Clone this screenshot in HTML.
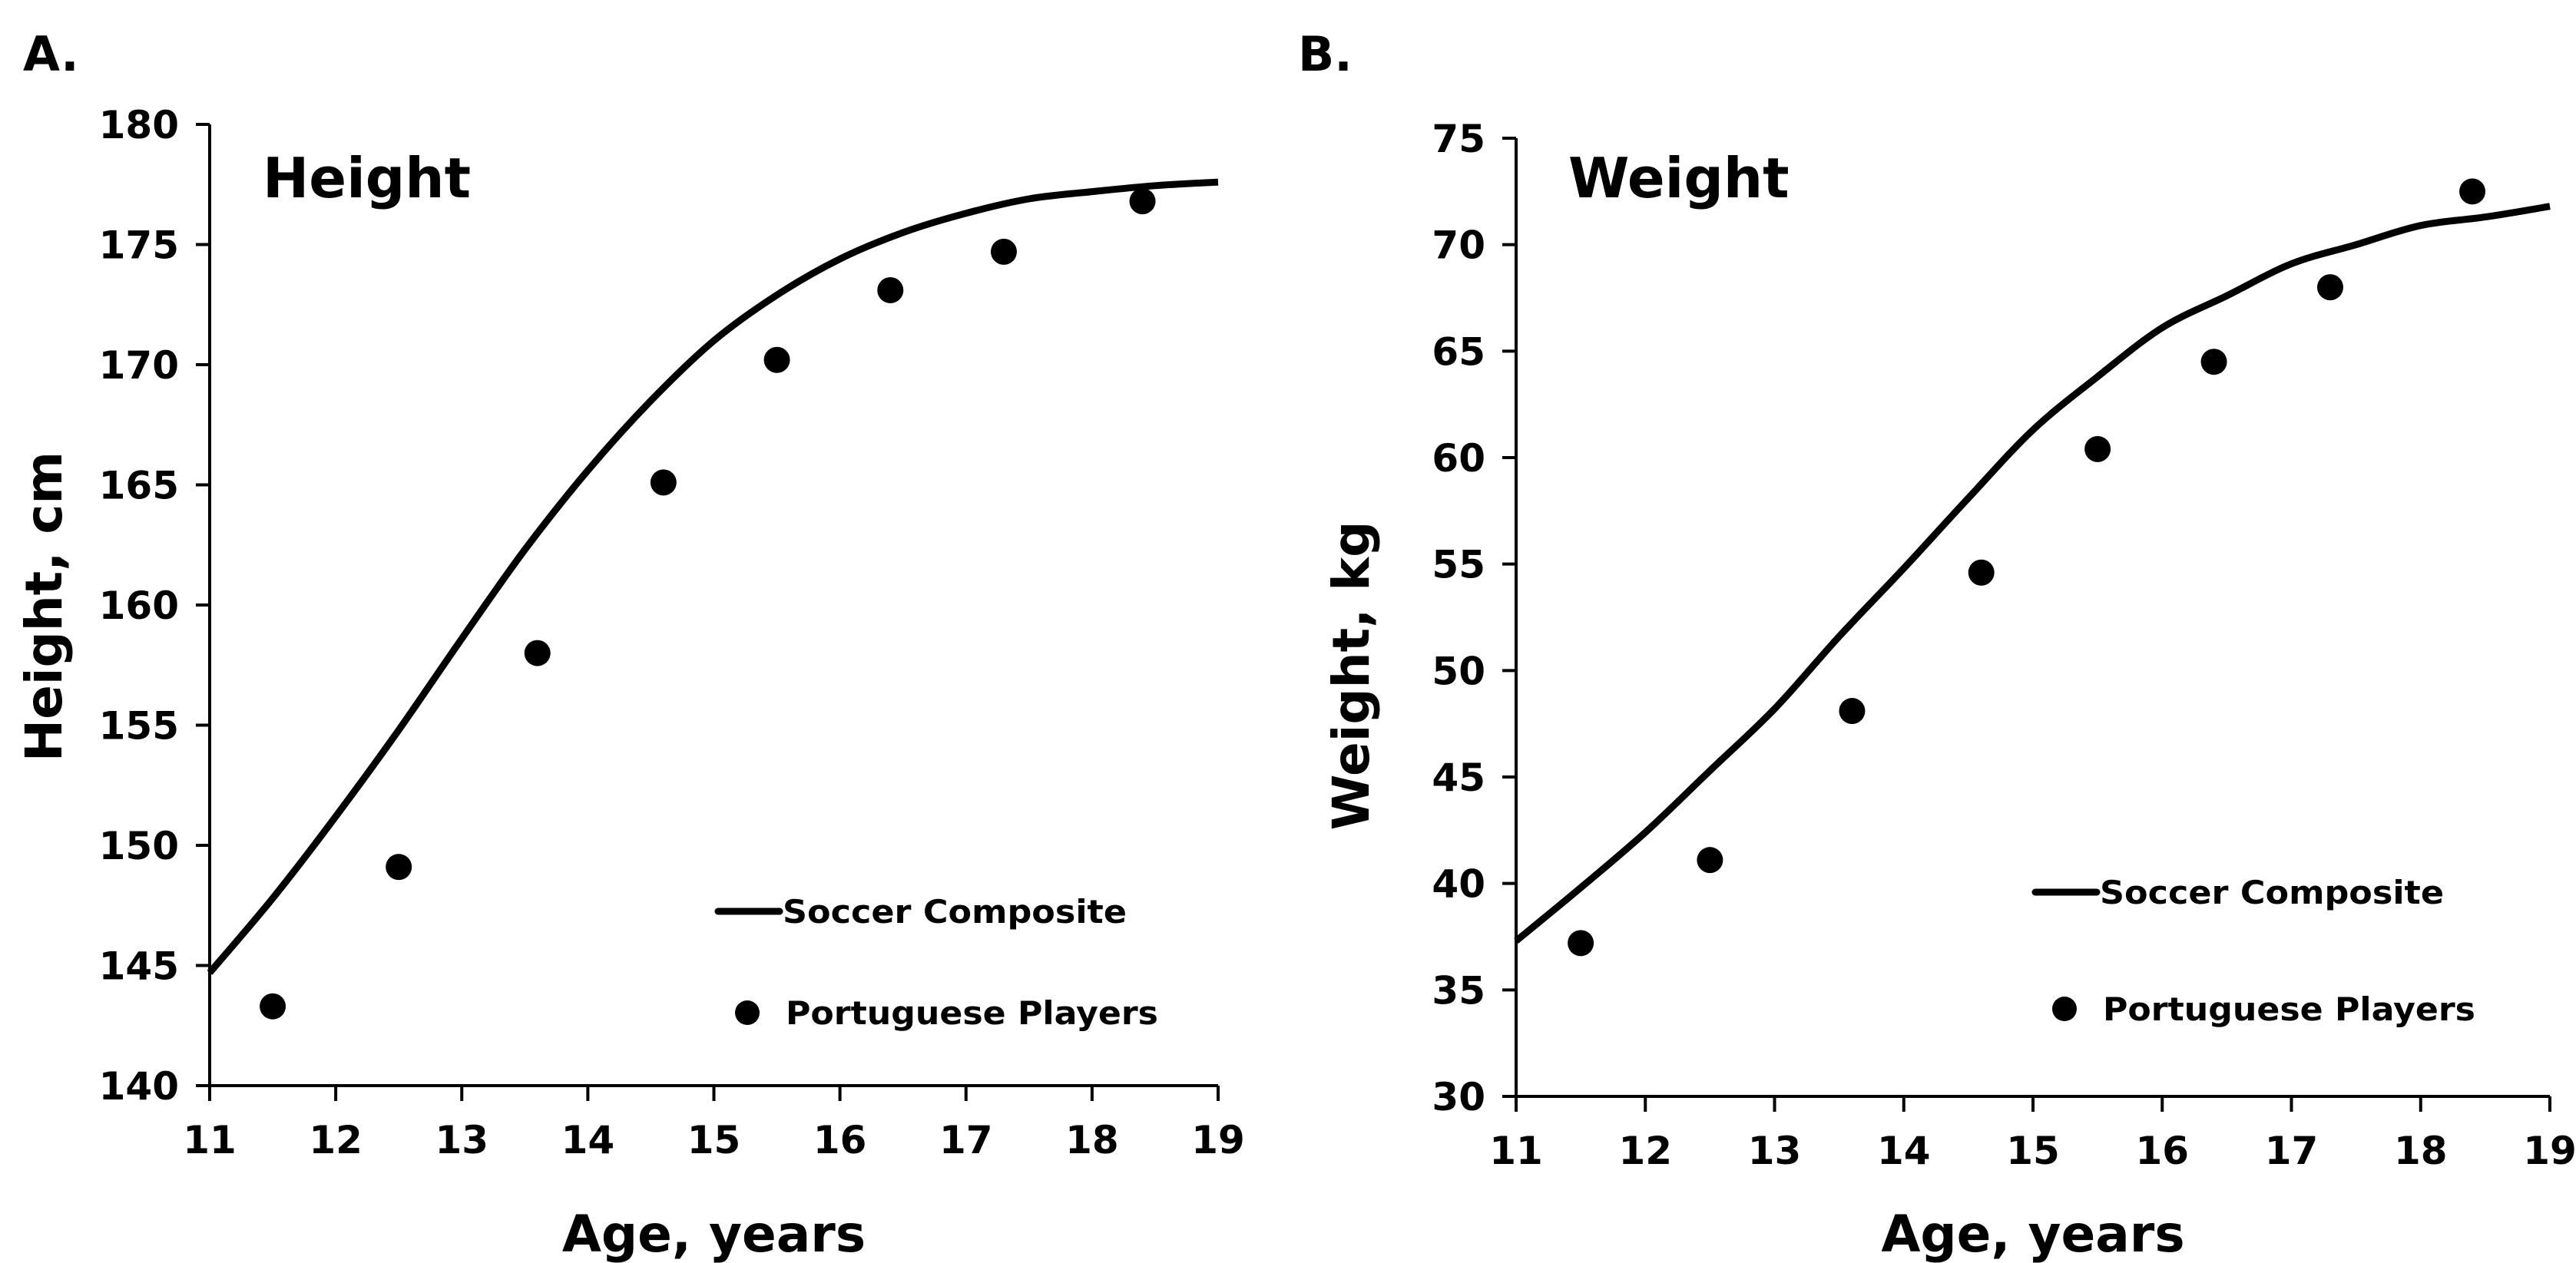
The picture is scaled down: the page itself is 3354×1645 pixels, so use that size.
<!DOCTYPE html>
<html><head><meta charset="utf-8">
<style>
html,body{margin:0;padding:0;background:#fff;}
svg{display:block;}
text{font-family:"DejaVu Sans","Liberation Sans",sans-serif;font-weight:bold;fill:#000;}
</style></head>
<body>
<svg id="chart" width="3354" height="1645" viewBox="0 0 3354 1645" xmlns="http://www.w3.org/2000/svg">
</svg>
<script>
// Shared age ticks
const ageTicks = [11,12,13,14,15,16,17,18,19];
const dotAges = [11.5,12.5,13.6,14.6,15.5,16.4,17.3,18.4];
// Panel A: height
const heightTicks = [140,145,150,155,160,165,170,175,180];
const heightDots = [143.3,149.1,158.0,165.1,170.2,173.1,174.7,176.8];
const curveAges = [11,11.5,12,12.5,13,13.5,14,14.5,15,15.5,16,16.5,17,17.5,18,18.5,19];
const heightCurve = [144.7,147.8,151.2,154.8,158.6,162.3,165.6,168.5,171.0,172.9,174.4,175.5,176.3,176.9,177.2,177.45,177.6];
// Panel B: weight
const weightTicks = [30,35,40,45,50,55,60,65,70,75];
const weightDots = [37.2,41.1,48.1,54.6,60.4,64.5,68.0,72.5];
const weightCurveAges = [11,11.5,12,12.5,13,13.5,14,14.5,15,15.5,16,16.5,17,17.5,18,18.5,19];
const weightCurve = [37.3,39.8,42.4,45.3,48.2,51.6,54.8,58.1,61.3,63.8,66.1,67.6,69.1,70.0,70.9,71.3,71.8];

const NS='http://www.w3.org/2000/svg';
const svg=document.getElementById('chart');
function mk(tag,attrs,parent){const e=document.createElementNS(NS,tag);for(const k in attrs)e.setAttribute(k,attrs[k]);(parent||svg).appendChild(e);return e;}
function txt(s,attrs,parent){const t=mk('text',attrs,parent);t.textContent=s;return t;}
function smooth(pts){
  let d='M'+pts[0][0].toFixed(1)+' '+pts[0][1].toFixed(1);
  for(let i=0;i<pts.length-1;i++){
    const p0=pts[Math.max(0,i-1)],p1=pts[i],p2=pts[i+1],p3=pts[Math.min(pts.length-1,i+2)];
    const c1x=p1[0]+(p2[0]-p0[0])/6,c1y=p1[1]+(p2[1]-p0[1])/6;
    const c2x=p2[0]-(p3[0]-p1[0])/6,c2y=p2[1]-(p3[1]-p1[1])/6;
    d+=` C${c1x.toFixed(1)} ${c1y.toFixed(1)} ${c2x.toFixed(1)} ${c2y.toFixed(1)} ${p2[0].toFixed(1)} ${p2[1].toFixed(1)}`;
  }
  return d;
}

function panel(cfg){
  const g=mk('g',{});
  
  
  const xs=v=>cfg.x0+(v-11)/8*(cfg.x1-cfg.x0);
  const ys=v=>cfg.yBot+(v-cfg.ymin)/(cfg.ymax-cfg.ymin)*(cfg.yTop-cfg.yBot);
  const ya=mk('line',{x1:cfg.x0,y1:cfg.yTop,x2:cfg.x0,y2:cfg.yBot+20,stroke:'#000','stroke-width':4},g);
  
  
  const xa=mk('line',{x1:cfg.x0-18,y1:cfg.yBot,x2:cfg.x1,y2:cfg.yBot,stroke:'#000','stroke-width':4},g);
  
  
  cfg.yticks.forEach(v=>{
    const y=ys(v);
    const tk=mk('line',{x1:cfg.x0-18,y1:y,x2:cfg.x0,y2:y,stroke:'#000','stroke-width':4},g);
    
    
    const t=txt(String(v),{x:cfg.x0-40,y:y+18,'text-anchor':'end','font-size':50},g);
    
    
  });
  ageTicks.forEach(v=>{
    const x=xs(v);
    const tk=mk('line',{x1:x,y1:cfg.yBot,x2:x,y2:cfg.yBot+20,stroke:'#000','stroke-width':4},g);
    
    
    const t=txt(String(v),{x:x,y:cfg.yBot+88,'text-anchor':'middle','font-size':50},g);
    
    
  });
  const pts=cfg.cx.map((a,i)=>[xs(a),ys(cfg.cy[i])]);
  const p=mk('path',{d:smooth(pts),fill:'none',stroke:'#000','stroke-width':9,'stroke-linejoin':'round'},g);
  
  
  dotAges.forEach((a,i)=>{
    const c=mk('circle',{cx:xs(a),cy:ys(cfg.dots[i]),r:17,fill:'#000'},g);
    
    
  });
  const pl=txt(cfg.letter,{x:cfg.letterX,y:92,'font-size':62},g);
  
  
  const il=txt(cfg.inTitle,{x:cfg.inX,y:257,'font-size':72},g);
  
  
  const xt=txt('Age, years',{x:(cfg.x0+cfg.x1)/2,y:1630,'text-anchor':'middle','font-size':66},g);
  
  
  const yt=txt(cfg.ytitle,{x:0,y:0,'text-anchor':'middle','font-size':66,transform:`translate(${cfg.ytX},${cfg.ytY}) rotate(-90)`},g);
  
  
  const ll=mk('line',{x1:cfg.legX,y1:cfg.legY1,x2:cfg.legX+80,y2:cfg.legY1,stroke:'#000','stroke-width':9,'stroke-linecap':'round'},g);
  
  
  const lt1=txt('Soccer Composite',{x:cfg.legX+84,y:cfg.legY1+15,'font-size':42,textLength:448,lengthAdjust:'spacingAndGlyphs'},g);
  
  
  const ld=mk('circle',{cx:cfg.legX+38,cy:cfg.legY2,r:16,fill:'#000'},g);
  
  
  const lt2=txt('Portuguese Players',{x:cfg.legX+88,y:cfg.legY2+15,'font-size':42,textLength:485,lengthAdjust:'spacingAndGlyphs'},g);
  
  
}

panel({name:'height-panel',letter:'A.',letterX:30,inTitle:'Height',inX:342,
  x0:273,x1:1586,yTop:162,yBot:1414,ymin:140,ymax:180,yticks:heightTicks,
  cx:curveAges,cy:heightCurve,dots:heightDots,ytitle:'Height, cm',ytX:80,ytY:790,
  legX:935,legY1:1187,legY2:1319});
panel({name:'weight-panel',letter:'B.',letterX:1690,inTitle:'Weight',inX:2042,
  x0:1974,x1:3320,yTop:180,yBot:1428,ymin:30,ymax:75,yticks:weightTicks,
  cx:weightCurveAges,cy:weightCurve,dots:weightDots,ytitle:'Weight, kg',ytX:1782,ytY:880,
  legX:2650,legY1:1162,legY2:1314});
</script>
</body></html>
